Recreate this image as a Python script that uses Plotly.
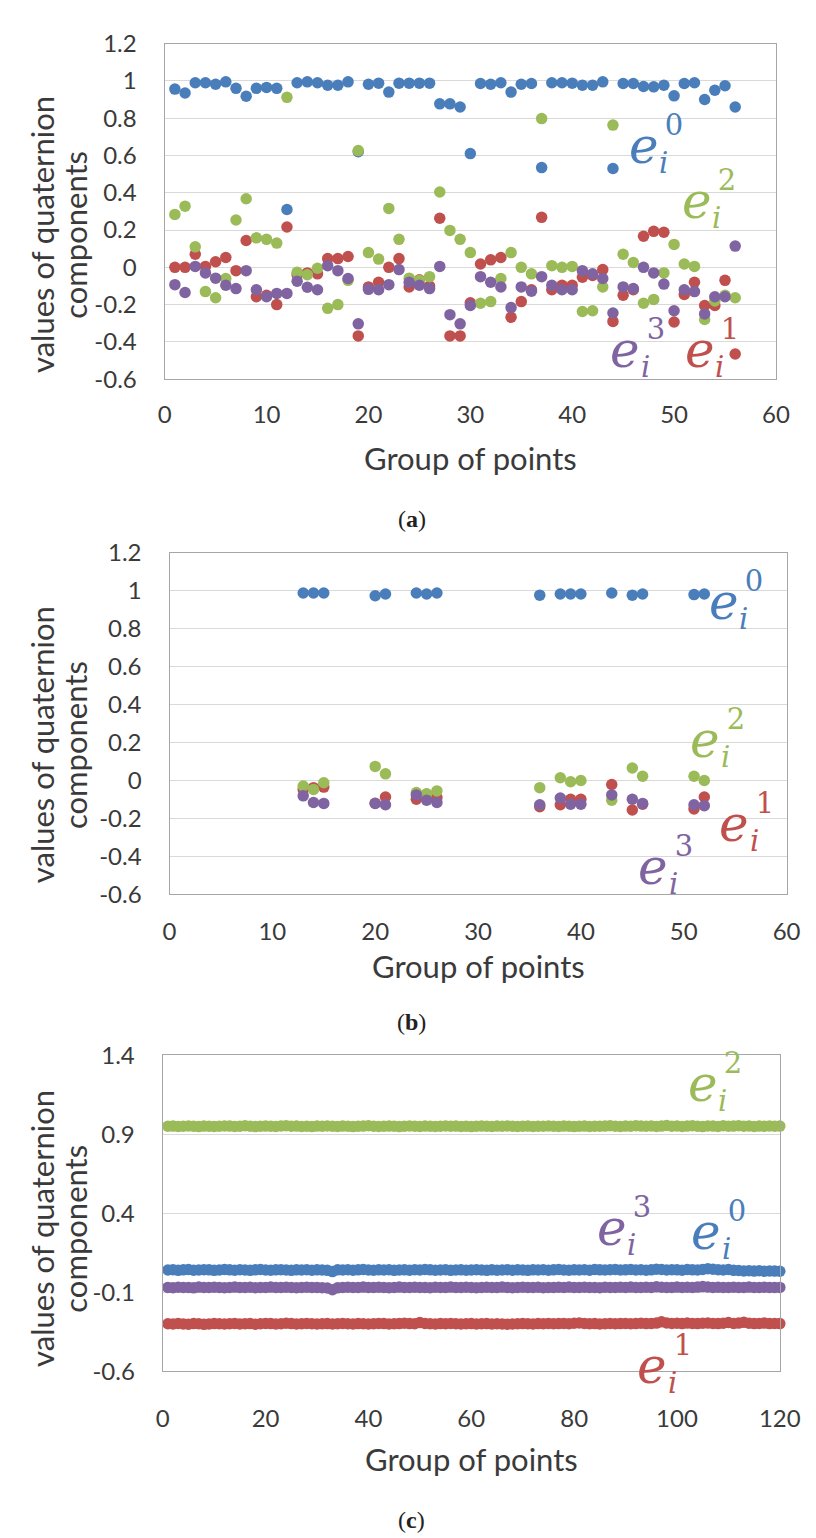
import plotly.graph_objects as go

W, H = 816, 1538

# ---------------- data: panel (a) ----------------
x_a = list(range(1, 57))
e0_a = [0.956, 0.935, 0.99, 0.99, 0.982, 0.995, 0.96, 0.918, 0.96, 0.965,
        0.96, 0.31, 0.99, 0.995, 0.99, 0.977, 0.977, 0.995, 0.62, 0.982,
        0.988, 0.94, 0.988, 0.988, 0.988, 0.988, 0.877, 0.877, 0.86, 0.61,
        0.986, 0.982, 0.99, 0.94, 0.982, 0.986, 0.535, 0.99, 0.99, 0.988,
        0.977, 0.977, 0.995, 0.53, 0.986, 0.986, 0.97, 0.968, 0.977, 0.92,
        0.986, 0.99, 0.9, 0.95, 0.974, 0.86]
e1_a = [0.0, 0.0, 0.07, 0.005, 0.03, 0.053, -0.018, 0.144, -0.158, -0.15,
        -0.2, 0.216, -0.04, -0.03, -0.035, 0.047, 0.047, 0.058, -0.368, -0.105,
        -0.08, 0.0, 0.047, -0.105, -0.067, -0.1, 0.263, -0.368, -0.368, -0.19,
        0.018, 0.04, 0.053, -0.268, -0.184, -0.12, 0.268, -0.12, -0.096, -0.096,
        -0.053, -0.044, -0.012, -0.29, -0.15, -0.12, 0.167, 0.193, 0.188, -0.293,
        -0.146, -0.08, -0.205, -0.205, -0.07, -0.465]
e2_a = [0.284, 0.328, 0.11, -0.13, -0.163, -0.06, 0.254, 0.368, 0.158, 0.15,
        0.13, 0.912, -0.027, -0.04, -0.005, -0.22, -0.2, -0.07, 0.626, 0.079,
        0.044, 0.316, 0.15, -0.058, -0.07, -0.05, 0.404, 0.198, 0.15, 0.079,
        -0.193, -0.184, -0.06, 0.079, 0.0, -0.035, 0.798, 0.009, 0.0, 0.005,
        -0.237, -0.233, -0.105, 0.763, 0.07, 0.026, -0.193, -0.172, -0.03, 0.123,
        0.018, 0.005, -0.28, -0.18, -0.15, -0.163]
e3_a = [-0.093, -0.135, 0.005, -0.03, -0.058, -0.096, -0.114, -0.018, -0.12, -0.158,
        -0.14, -0.14, -0.075, -0.107, -0.12, 0.009, -0.018, -0.06, -0.303, -0.118,
        -0.12, -0.093, -0.012, -0.08, -0.096, -0.114, 0.005, -0.254, -0.303, -0.205,
        -0.05, -0.08, -0.105, -0.216, -0.105, -0.128, -0.05, -0.096, -0.12, -0.12,
        -0.018, -0.035, -0.06, -0.245, -0.105, -0.114, 0.0, -0.03, -0.09, -0.233,
        -0.12, -0.13, -0.25, -0.158, -0.158, 0.114]

# ---------------- data: panel (b) ----------------
x_b = [13, 14, 15, 20, 21, 24, 25, 26, 36, 38, 39, 40, 43, 45, 46, 51, 52]
e0_b = [0.988, 0.988, 0.988, 0.974, 0.983, 0.988, 0.983, 0.988, 0.977, 0.983,
        0.983, 0.983, 0.988, 0.977, 0.983, 0.98, 0.983]
e1_b = [-0.047, -0.038, -0.035, -0.12, -0.087, -0.099, -0.073, -0.09, -0.138, -0.128,
        -0.099, -0.099, -0.021, -0.156, -0.125, -0.15, -0.087]
e2_b = [-0.029, -0.047, -0.012, 0.074, 0.035, -0.064, -0.07, -0.055, -0.038, 0.014,
        -0.007, 0.0, -0.104, 0.066, 0.022, 0.022, 0.0]
e3_b = [-0.081, -0.116, -0.121, -0.121, -0.128, -0.076, -0.104, -0.116, -0.128, -0.093,
        -0.125, -0.125, -0.076, -0.099, -0.121, -0.128, -0.133]

# ---------------- data: panel (c) ----------------
x_c = list(range(1, 121))
e2_c = [0.950, 0.951, 0.949, 0.950, 0.952, 0.950, 0.948, 0.951, 0.950, 0.949,
        0.950, 0.952, 0.951, 0.949, 0.950, 0.953, 0.950, 0.948, 0.950, 0.951,
        0.950, 0.949, 0.952, 0.954, 0.950, 0.951, 0.949, 0.950, 0.948, 0.951,
        0.950, 0.952, 0.950, 0.949, 0.951, 0.950, 0.948, 0.950, 0.951, 0.953,
        0.950, 0.949, 0.950, 0.951, 0.950, 0.948, 0.950, 0.952, 0.950, 0.949,
        0.951, 0.950, 0.949, 0.950, 0.952, 0.950, 0.951, 0.949, 0.950, 0.948,
        0.950, 0.951, 0.950, 0.949, 0.951, 0.950, 0.952, 0.950, 0.949, 0.950,
        0.951, 0.949, 0.950, 0.950, 0.952, 0.950, 0.949, 0.951, 0.950, 0.948,
        0.950, 0.951, 0.949, 0.950, 0.950, 0.951, 0.953, 0.950, 0.949, 0.951,
        0.950, 0.954, 0.951, 0.950, 0.952, 0.949, 0.951, 0.955, 0.950, 0.952,
        0.949, 0.951, 0.953, 0.950, 0.948, 0.952, 0.951, 0.949, 0.953, 0.950,
        0.951, 0.954, 0.950, 0.952, 0.949, 0.951, 0.950, 0.952, 0.950, 0.951]
e0_c = [0.040, 0.042, 0.038, 0.041, 0.043, 0.039, 0.040, 0.042, 0.041, 0.038,
        0.040, 0.043, 0.041, 0.039, 0.042, 0.040, 0.038, 0.041, 0.043, 0.040,
        0.039, 0.041, 0.042, 0.040, 0.038, 0.041, 0.040, 0.042, 0.039, 0.041,
        0.040, 0.038, 0.030, 0.041, 0.040, 0.042, 0.039, 0.041, 0.043, 0.040,
        0.039, 0.041, 0.040, 0.042, 0.038, 0.040, 0.041, 0.039, 0.042, 0.040,
        0.043, 0.041, 0.039, 0.040, 0.042, 0.038, 0.040, 0.041, 0.039, 0.040,
        0.042, 0.040, 0.038, 0.041, 0.039, 0.040, 0.042, 0.039, 0.041, 0.040,
        0.038, 0.041, 0.040, 0.042, 0.039, 0.041, 0.043, 0.040, 0.039, 0.041,
        0.040, 0.042, 0.039, 0.044, 0.041, 0.040, 0.042, 0.043, 0.040, 0.041,
        0.044, 0.040, 0.042, 0.039, 0.041, 0.045, 0.043, 0.040, 0.042, 0.041,
        0.039, 0.043, 0.041, 0.040, 0.044, 0.048, 0.045, 0.042, 0.040, 0.043,
        0.038, 0.037, 0.034, 0.036, 0.033, 0.035, 0.032, 0.034, 0.033, 0.032]
e3_c = [-0.070, -0.072, -0.069, -0.071, -0.070, -0.073, -0.068, -0.070, -0.071, -0.069,
        -0.070, -0.072, -0.070, -0.068, -0.071, -0.070, -0.069, -0.072, -0.070, -0.071,
        -0.068, -0.070, -0.071, -0.069, -0.070, -0.072, -0.070, -0.069, -0.071, -0.070,
        -0.072, -0.074, -0.085, -0.073, -0.070, -0.069, -0.071, -0.070, -0.068, -0.070,
        -0.071, -0.069, -0.070, -0.072, -0.070, -0.068, -0.071, -0.070, -0.069, -0.071,
        -0.070, -0.072, -0.069, -0.070, -0.071, -0.068, -0.070, -0.071, -0.069, -0.070,
        -0.072, -0.070, -0.069, -0.071, -0.070, -0.068, -0.070, -0.072, -0.070, -0.069,
        -0.071, -0.070, -0.069, -0.072, -0.070, -0.071, -0.069, -0.070, -0.068, -0.071,
        -0.070, -0.069, -0.071, -0.070, -0.072, -0.069, -0.070, -0.071, -0.069, -0.070,
        -0.068, -0.070, -0.071, -0.069, -0.070, -0.066, -0.069, -0.071, -0.070, -0.068,
        -0.070, -0.069, -0.071, -0.068, -0.065, -0.067, -0.070, -0.069, -0.071, -0.070,
        -0.069, -0.071, -0.070, -0.068, -0.070, -0.071, -0.069, -0.070, -0.071, -0.070]
e1_c = [-0.300, -0.302, -0.298, -0.301, -0.303, -0.299, -0.300, -0.304, -0.301, -0.299,
        -0.300, -0.302, -0.300, -0.298, -0.301, -0.300, -0.299, -0.303, -0.300, -0.298,
        -0.299, -0.301, -0.300, -0.297, -0.299, -0.301, -0.300, -0.298, -0.300, -0.302,
        -0.300, -0.299, -0.301, -0.300, -0.298, -0.300, -0.301, -0.299, -0.300, -0.302,
        -0.300, -0.298, -0.299, -0.301, -0.300, -0.299, -0.297, -0.299, -0.300, -0.293,
        -0.298, -0.300, -0.301, -0.299, -0.300, -0.298, -0.300, -0.302, -0.300, -0.299,
        -0.301, -0.300, -0.299, -0.302, -0.300, -0.301, -0.303, -0.301, -0.300, -0.299,
        -0.300, -0.301, -0.299, -0.300, -0.298, -0.300, -0.299, -0.298, -0.300, -0.297,
        -0.295, -0.298, -0.300, -0.299, -0.301, -0.300, -0.298, -0.300, -0.299, -0.298,
        -0.300, -0.299, -0.297, -0.299, -0.298, -0.296, -0.288, -0.295, -0.298, -0.297,
        -0.299, -0.296, -0.298, -0.299, -0.297, -0.296, -0.298, -0.299, -0.297, -0.292,
        -0.298, -0.296, -0.291, -0.297, -0.299, -0.298, -0.296, -0.299, -0.298, -0.299]

# ---------------- ticks ----------------
yt_ab = [-0.6, -0.4, -0.2, 0, 0.2, 0.4, 0.6, 0.8, 1, 1.2]
yt_ab_text = ["-0.6", "-0.4", "-0.2", "0", "0.2", "0.4", "0.6", "0.8", "1", "1.2"]
xt_ab = [0, 10, 20, 30, 40, 50, 60]
yt_c = [-0.6, -0.1, 0.4, 0.9, 1.4]
yt_c_text = ["-0.6", "-0.1", "0.4", "0.9", "1.4"]
xt_c = [0, 20, 40, 60, 80, 100, 120]

series_names = ["e0", "e1", "e2", "e3"]
colors = ["#4A7EBB", "#C0504D", "#9BBB59", "#8064A2"]

FONT = "Lato"
TXT = "#3A3A3A"

# plot-area boxes in pixels (left, top, right, bottom)
boxes = {
    "a": (155, 20, 788, 362),
    "b": (160, 539, 799, 887),
    "c": (153, 1051, 792, 1373),
}


def dom(box):
    l, t, r, b = box
    return [l / W, r / W], [1 - b / H, 1 - t / H]


def P(x, y):
    return x / W, 1 - y / H


fig = go.Figure()

panels = [
    ("a", "x", "y", x_a, [e0_a, e1_a, e2_a, e3_a], 11.5),
    ("b", "x2", "y2", x_b, [e0_b, e1_b, e2_b, e3_b], 11.5),
    ("c", "x3", "y3", x_c, [e0_c, e1_c, e2_c, e3_c], 11.5),
]
for key, xa, ya, xs, ys, msize in panels:
    for name, col, vals in zip(series_names, colors, ys):
        fig.add_trace(go.Scatter(
            x=xs, y=vals, mode="markers", name=name, xaxis=xa, yaxis=ya,
            marker=dict(size=msize, color=col, line=dict(width=0)),
            showlegend=False, cliponaxis=False))

axis_common = dict(
    showline=True, mirror=True, linecolor="#A6A6A6", linewidth=1.3,
    ticks="", tickfont=dict(family=FONT, size=24, color=TXT),
)

layout = dict(
    width=W, height=H, margin=dict(l=0, r=0, t=0, b=0),
    paper_bgcolor="white", plot_bgcolor="white", showlegend=False,
)

for key, suf, xr, xt, yr, yt, ytt, xstand in [
    ("a", "", [0, 60], xt_ab, [-0.6, 1.2], yt_ab, yt_ab_text, 14),
    ("b", "2", [0, 60], xt_ab, [-0.6, 1.2], yt_ab, yt_ab_text, 16),
    ("c", "3", [0, 120], xt_c, [-0.6, 1.4], yt_c, yt_c_text, 26),
]:
    xd, yd = dom(boxes[key])
    layout["xaxis" + suf] = dict(
        axis_common, domain=xd, range=xr, tickvals=xt, showgrid=False,
        zeroline=False, ticklabelstandoff=xstand,
        anchor="y" + suf)
    layout["yaxis" + suf] = dict(
        axis_common, domain=yd, range=yr, tickvals=yt, ticktext=ytt,
        showgrid=True, gridcolor="#D9D9D9", gridwidth=1, zeroline=False,
        ticklabelstandoff=22, anchor="x" + suf)

fig.update_layout(**layout)

ann = []


def text_ann(x, y, text, size, color=TXT, family=FONT, angle=0,
             xanchor="center", align="center"):
    px, py = P(x, y)
    ann.append(dict(x=px, y=py, xref="paper", yref="paper", text=text,
                    showarrow=False, xanchor=xanchor, yanchor="middle",
                    align=align, textangle=angle,
                    font=dict(family=family, size=size, color=color)))


# axis titles and captions
for key, ycen, xtitle_y, cap_y in [("a", 215, 442, 505),
                                   ("b", 735, 960, 1017),
                                   ("c", 1228, 1463, 1525)]:
    l, t, r, b = boxes[key]
    text_ann(28, ycen, "values of quaternion", 31, angle=-90)
    text_ann(62, ycen, "components", 31, angle=-90)
    text_ann((l + r) / 2, xtitle_y, "Group of points", 31)
    text_ann(411, cap_y, "(<b>%s</b>)" % key, 24, color="#222222",
             family="Liberation Serif")

SERIF = "DejaVu Serif"


def elabel(ex, ey, digit, color):
    # italic e, then a stacked block: superscript digit over subscript i
    text_ann(ex, ey, "<i>e</i>", 50, color=color, family=SERIF)
    text_ann(ex + 14, ey - 2, "\u2009" + digit + "<br><i>i</i>", 29,
             color=color, family=SERIF, xanchor="left", align="left")


# panel (a)
elabel(651, 124, "0", colors[0])
elabel(706, 180, "2", colors[2])
elabel(632, 332, "3", colors[3])
elabel(709, 332, "1", colors[1])
# panel (b)
elabel(734, 589, "0", colors[0])
elabel(715, 730, "2", colors[2])
elabel(745, 815, "1", colors[1])
elabel(661, 859, "3", colors[3])
# panel (c)
elabel(712, 1080, "2", colors[2])
elabel(618, 1227, "3", colors[3])
elabel(716, 1231, "0", colors[0])
elabel(660, 1368, "1", colors[1])

fig.update_layout(annotations=ann)
fig.write_html("out.html")
